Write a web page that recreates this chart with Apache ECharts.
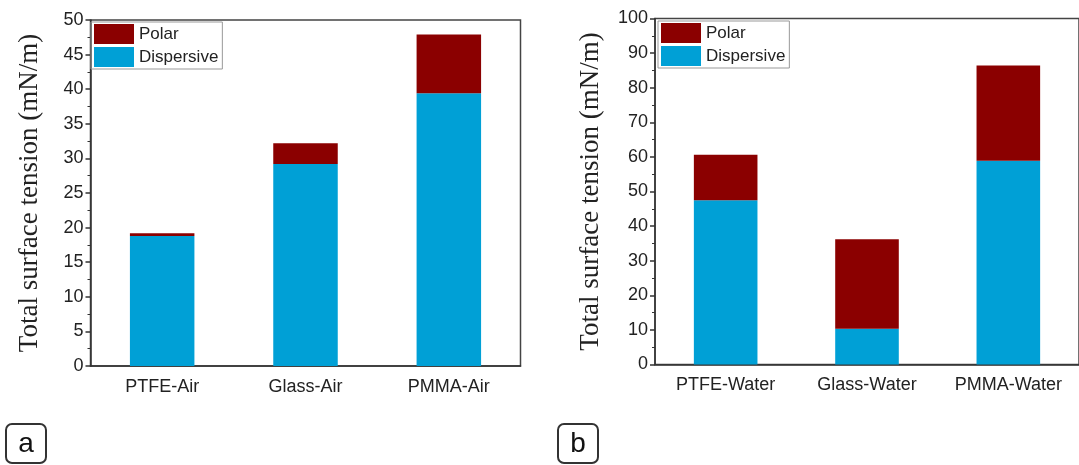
<!DOCTYPE html>
<html>
<head>
<meta charset="utf-8">
<script src="https://cdn.jsdelivr.net/npm/echarts@6/dist/echarts.min.js"></script>
<style>
  html, body { margin: 0; padding: 0; background: #fff; }
  #chart { width: 1079px; height: 465px; }
</style>
</head>
<body>
<div id="chart"></div>
<script>
// panel a (air)
var airCats = ['PTFE-Air', 'Glass-Air', 'PMMA-Air'];
var airDispersive = [18.8, 29.2, 39.4];
var airPolar = [0.4, 3.0, 8.5];
// panel b (water)
var waterCats = ['PTFE-Water', 'Glass-Water', 'PMMA-Water'];
var waterDispersive = [47.5, 10.3, 58.9];
var waterPolar = [13.1, 25.9, 27.5];

var yName = 'Total surface tension (mN/m)';
var cPolar = '#8b0000';
var cDisp = '#00a0d6';

function makeX(idx, cats) {
    return {
        type: 'category', gridIndex: idx, data: cats,
        axisLine: {lineStyle: {color: '#333', width: 1.5}},
        axisTick: {alignWithLabel: true, length: 5, lineStyle: {color: '#333', width: 1.5}},
        axisLabel: {fontFamily: 'Liberation Sans', fontSize: 18, color: '#222', margin: 12}
    };
}

function makeY(idx, max, step, gap) {
    return {
        type: 'value', gridIndex: idx, min: 0, max: max, interval: step,
        name: yName, nameLocation: 'middle', nameGap: gap,
        nameTextStyle: {fontFamily: 'Liberation Serif', fontSize: 27, color: '#222'},
        axisLine: {show: true, lineStyle: {color: '#333', width: 1.5}},
        axisTick: {show: true, inside: false, length: 5, lineStyle: {color: '#333', width: 1.5}},
        minorTick: {show: true, splitNumber: 2, length: 3, lineStyle: {color: '#333', width: 1}},
        splitLine: {show: false},
        axisLabel: {fontFamily: 'Liberation Sans', fontSize: 18, color: '#222', margin: 7}
    };
}

function makeLegend(left, top) {
    return {
        orient: 'vertical', left: left, top: top,
        data: ['Polar', 'Dispersive'],
        icon: 'rect',
        itemWidth: 40, itemHeight: 20, itemGap: 3,
        padding: [2, 4, 2, 3],
        borderColor: '#999', borderWidth: 1,
        textStyle: {fontFamily: 'Liberation Sans', fontSize: 17, color: '#222'},
        selectedMode: false
    };
}

function bar(name, xi, data, color) {
    return {
        type: 'bar', name: name, xAxisIndex: xi, yAxisIndex: xi,
        stack: 's' + xi, data: data, barWidth: '45%',
        itemStyle: {color: color}
    };
}

function panelTag(x, letter) {
    return {
        type: 'group', left: x, top: 423,
        children: [
            {type: 'rect', shape: {x: 0, y: 0, width: 40, height: 39, r: 6},
             style: {fill: '#fff', stroke: '#333', lineWidth: 2}},
            {type: 'text', x: 20, y: 20,
             style: {text: letter, fontFamily: 'Liberation Sans', fontSize: 28, fill: '#111',
                     align: 'center', verticalAlign: 'middle'}}
        ]
    };
}

var chart = echarts.init(document.getElementById('chart'));
chart.setOption({
    animation: false,
    grid: [
        {left: 90.5, top: 20, width: 430, height: 346, show: true,
         borderColor: '#444', borderWidth: 1.5, backgroundColor: 'transparent'},
        {left: 655, top: 18.5, width: 430, height: 346, show: true,
         borderColor: '#444', borderWidth: 1.5, backgroundColor: 'transparent'}
    ],
    legend: [makeLegend(91, 22), makeLegend(658, 21)],
    xAxis: [makeX(0, airCats), makeX(1, waterCats)],
    yAxis: [makeY(0, 50, 5, 47), makeY(1, 100, 10, 51)],
    series: [
        bar('Dispersive', 0, airDispersive, cDisp),
        bar('Polar', 0, airPolar, cPolar),
        bar('Dispersive', 1, waterDispersive, cDisp),
        bar('Polar', 1, waterPolar, cPolar)
    ],
    graphic: [panelTag(5, 'a'), panelTag(557, 'b')]
});
</script>
</body>
</html>
